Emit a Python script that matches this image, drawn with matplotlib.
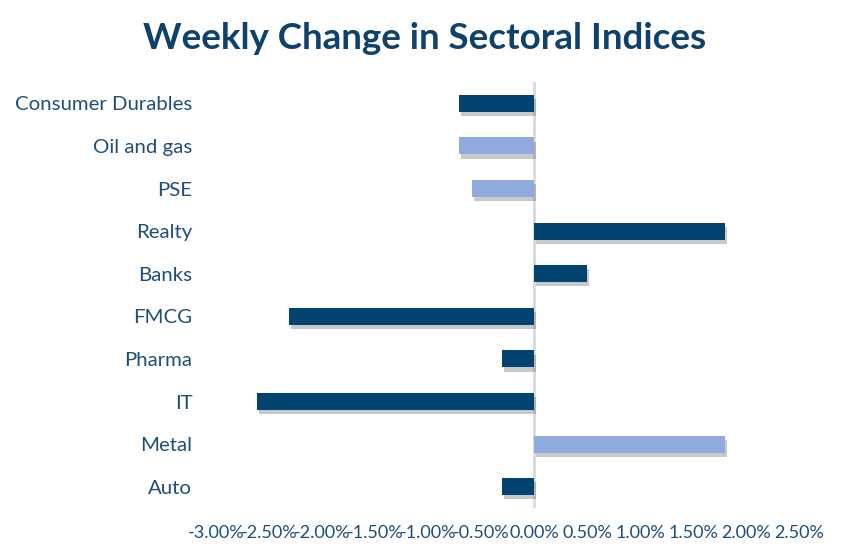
import matplotlib
matplotlib.use('Agg')
import matplotlib.pyplot as plt
import matplotlib.patheffects as pe
from matplotlib.ticker import FuncFormatter

sectors = ["Consumer Durables", "Oil and gas", "PSE", "Realty", "Banks",
           "FMCG", "Pharma", "IT", "Metal", "Auto"]
weekly_change = [-0.71, -0.71, -0.585, 1.80, 0.50, -2.31, -0.30, -2.61, 1.80, -0.30]
highlight = [False, True, True, False, False, False, False, False, True, False]

navy = '#00446F'
light = '#8FAADC'
text_col = '#1F4E79'

plt.rcParams['font.family'] = ['Lato', 'DejaVu Sans']

fig = plt.figure(figsize=(8.48, 5.56), dpi=100)
ax = fig.add_axes([0.2547, 0.0863, 0.6875, 0.7662])

colors = [light if h else navy for h in highlight]
ypos = list(range(len(sectors)))[::-1]
bars = ax.barh(ypos, weekly_change, height=0.4, color=colors, zorder=3)
for b in bars:
    b.set_path_effects([pe.SimplePatchShadow(offset=(1.5, -3), shadow_rgbFace='#666666', alpha=0.35),
                        pe.Normal()])

ax.axvline(0, color='#D9D9D9', lw=2, zorder=2)

ax.set_xlim(-3.0, 2.5)
ax.set_ylim(-0.5, len(sectors) - 0.5)
ax.set_xticks([x / 2 for x in range(-6, 6)])
ax.xaxis.set_major_formatter(FuncFormatter(lambda v, p: f"{v:.2f}%"))
ax.set_yticks(ypos)
ax.set_yticklabels(sectors)

for s in ax.spines.values():
    s.set_visible(False)
ax.tick_params(axis='both', length=0, colors=text_col)
ax.tick_params(axis='y', labelsize=14.7, pad=17)
ax.tick_params(axis='x', labelsize=13, pad=12)

fig.text(0.501, 0.93, "Weekly Change in Sectoral Indices", ha='center', va='center',
         fontsize=26.5, fontweight='bold', color='#0E416C')

fig.savefig('out.png', dpi=100)
